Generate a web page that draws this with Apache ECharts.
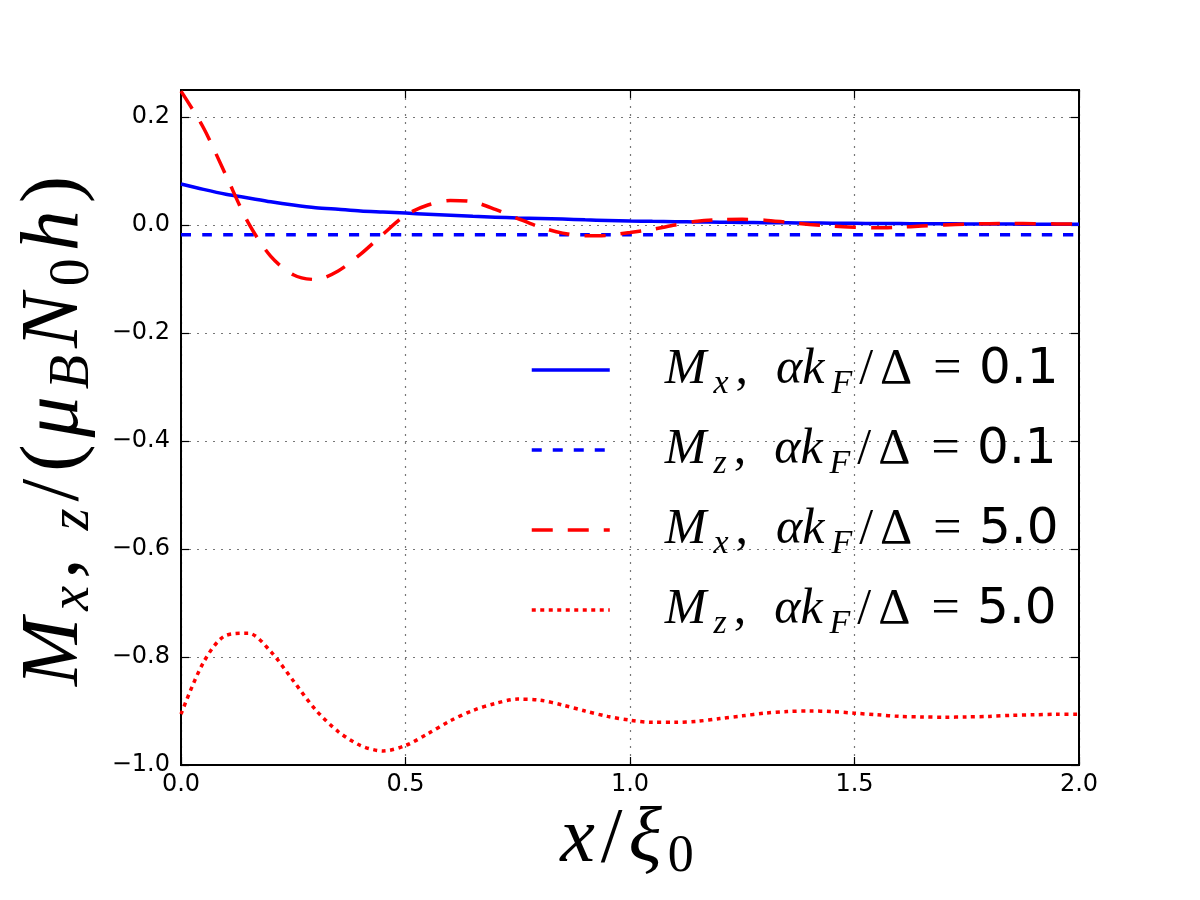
<!DOCTYPE html>
<html>
<head>
<meta charset="utf-8">
<script src="https://cdn.jsdelivr.net/npm/echarts@6/dist/echarts.min.js"></script>
<style>
  html, body { margin: 0; padding: 0; background: #fff; }
  #chart { width: 1200px; height: 900px; }
</style>
</head>
<body>
<div id="chart"></div>
<script>
// x / xi_0 sample positions
const xs = [0.00, 0.05, 0.10, 0.15, 0.20, 0.25, 0.30, 0.35, 0.40, 0.45,
  0.50, 0.55, 0.60, 0.65, 0.70, 0.75, 0.80, 0.85, 0.90, 0.95,
  1.00, 1.05, 1.10, 1.15, 1.20, 1.25, 1.30, 1.35, 1.40, 1.45,
  1.50, 1.55, 1.60, 1.65, 1.70, 1.75, 1.80, 1.85, 1.90, 1.95, 2.00]

// M_x, alpha k_F / Delta = 0.1
const mx01 = [0.076, 0.066, 0.057, 0.050, 0.043, 0.037, 0.032, 0.029, 0.026, 0.024,
  0.022, 0.020, 0.018, 0.016, 0.0145, 0.013, 0.012, 0.011, 0.0095, 0.0085,
  0.0075, 0.0068, 0.0062, 0.0056, 0.0051, 0.0047, 0.0043, 0.0040, 0.0037, 0.0034,
  0.0031, 0.0028, 0.0026, 0.0024, 0.0022, 0.0020, 0.0018, 0.0017, 0.0015, 0.0014, 0.0013]

// M_z, alpha k_F / Delta = 0.1
const mz01 = [-0.018, -0.018, -0.018, -0.018, -0.018, -0.018, -0.018, -0.018, -0.018, -0.018,
  -0.018, -0.018, -0.018, -0.018, -0.018, -0.018, -0.018, -0.018, -0.018, -0.018,
  -0.018, -0.018, -0.018, -0.018, -0.018, -0.018, -0.018, -0.018, -0.018, -0.018,
  -0.018, -0.018, -0.018, -0.018, -0.018, -0.018, -0.018, -0.018, -0.018, -0.018, -0.018]

// M_x, alpha k_F / Delta = 5.0
const mx50 = [0.248, 0.180, 0.092, 0.004, -0.058, -0.092, -0.101, -0.085, -0.054, -0.017,
  0.018, 0.037, 0.0455, 0.043, 0.029, 0.012, -0.004, -0.015, -0.020, -0.019,
  -0.014, -0.008, 0.000, 0.007, 0.010, 0.0105, 0.009, 0.005, 0.001, -0.002,
  -0.004, -0.005, -0.004, -0.002, 0.000, 0.0015, 0.0025, 0.003, 0.0025, 0.002, 0.0015]

// M_z, alpha k_F / Delta = 5.0
const mz50 = [-0.906, -0.810, -0.760, -0.756, -0.790, -0.844, -0.898, -0.938, -0.964, -0.974,
  -0.964, -0.942, -0.918, -0.899, -0.886, -0.878, -0.880, -0.889, -0.900, -0.910,
  -0.917, -0.921, -0.921, -0.919, -0.914, -0.909, -0.904, -0.901, -0.900, -0.901,
  -0.904, -0.907, -0.910, -0.911, -0.9115, -0.911, -0.910, -0.908, -0.907, -0.906, -0.906]

const seriesNames = ['mx01', 'mz01', 'mx50', 'mz50']
const legendTexts = {
  mx01: '{m|M}{s|x}{c|,}{m|αk}{s|F}{u|/}{u|Δ}{e|=}{n|0.1}',
  mz01: '{m|M}{s|z}{c|,}{m|αk}{s|F}{u|/}{u|Δ}{e|=}{n|0.1}',
  mx50: '{m|M}{s|x}{c|,}{m|αk}{s|F}{u|/}{u|Δ}{e|=}{n|5.0}',
  mz50: '{m|M}{s|z}{c|,}{m|αk}{s|F}{u|/}{u|Δ}{e|=}{n|5.0}'
}

const serif = 'Liberation Serif'
const sans = 'DejaVu Sans'

const chart = echarts.init(document.getElementById('chart'))

const pairs = arr => xs.map((x, i) => [x, arr[i]])
const fmt = v => (v < 0 ? '\u2212' : '') + Math.abs(v).toFixed(1)

// math-like rich text pieces, gap = extra spacing between glyphs
const mathRich = (size, sub, gap) => {
  const drop = Math.round(size * 0.42)
  return {
    m: { fontFamily: serif, fontStyle: 'italic', fontSize: size, color: '#000', padding: [0, gap, 0, 0] },
    u: { fontFamily: serif, fontSize: size, color: '#000', padding: [0, gap, 0, 0] },
    c: { fontFamily: serif, fontSize: size, color: '#000', padding: [0, gap * 4, 0, 0] },
    e: { fontFamily: serif, fontSize: size, color: '#000', padding: [0, gap * 2.5, 0, gap * 2] },
    s: { fontFamily: serif, fontStyle: 'italic', fontSize: sub, color: '#000', verticalAlign: 'bottom', padding: [drop, gap, 0, 0] },
    d: { fontFamily: serif, fontSize: sub, color: '#000', verticalAlign: 'bottom', padding: [drop, gap, 0, 0] },
    n: { fontFamily: sans, fontSize: size, color: '#000' }
  }
}

const lineSeries = (name, data, color, type) => ({
  name,
  type: 'line',
  data: pairs(data),
  symbol: 'none',
  smooth: 0.3,
  lineStyle: { color, width: 3.5, type, cap: 'butt' },
  itemStyle: { color },
  z: 3
})

const axisLine = { show: true, onZero: false, lineStyle: { color: '#000', width: 2 } }
const axisTick = { show: true, inside: true, length: 8, lineStyle: { color: '#000', width: 1.2 } }
const gridLine = { show: true, lineStyle: { color: '#777', width: 1.2, type: [2, 6] } }

const option = {
  backgroundColor: '#fff',
  animation: false,
  grid: {
    left: 181, right: 121, top: 90, bottom: 135,
    outerBoundsMode: 'none',
    show: true, borderColor: '#000', borderWidth: 2
  },
  legend: {
    orient: 'vertical',
    left: 525,
    top: 334,
    itemWidth: 78,
    itemHeight: 14,
    itemGap: 18,
    data: seriesNames,
    itemStyle: { opacity: 0 },
    lineStyle: { width: 3.5 },
    formatter: n => legendTexts[n],
    textStyle: {
      padding: [0, 0, 0, 50],
      lineHeight: 62,
      rich: mathRich(50, 34, 7)
    }
  },
  xAxis: [{
    type: 'value',
    min: 0, max: 2, interval: 0.5,
    name: '{m|x}{u|/}{m|ξ}{d|0}',
    nameLocation: 'middle',
    nameGap: 30,
    nameTextStyle: { rich: mathRich(78, 52, 6), verticalAlign: 'top' },
    axisLine,
    axisTick,
    axisLabel: { formatter: v => v.toFixed(1), fontFamily: sans, fontSize: 24, color: '#000', margin: 8 },
    splitLine: gridLine
  }, {
    type: 'value', position: 'top',
    min: 0, max: 2, interval: 0.5,
    axisLine,
    axisTick,
    axisLabel: { show: false },
    splitLine: { show: false }
  }],
  yAxis: [{
    type: 'value',
    min: -1, max: 0.25, interval: 0.2,
    name: '{m|M}{s|x}{c|,}{s|z}{u|/}{u|(}{m|μ}{s|B}{m|N}{d|0}{m|h}{u|)}',
    nameLocation: 'middle',
    nameRotate: 90,
    nameGap: 80,
    nameTextStyle: { rich: mathRich(82, 56, 7) },
    axisLine,
    axisTick,
    axisLabel: { formatter: fmt, fontFamily: sans, fontSize: 24, color: '#000', margin: 11, showMaxLabel: false },
    splitLine: gridLine
  }, {
    type: 'value', position: 'right',
    min: -1, max: 0.25, interval: 0.2,
    axisLine,
    axisTick,
    axisLabel: { show: false },
    splitLine: { show: false }
  }],
  series: [
    lineSeries('mx01', mx01, '#0000ff', 'solid'),
    lineSeries('mz01', mz01, '#0000ff', [10, 11]),
    lineSeries('mx50', mx50, '#ff0000', [21, 15]),
    lineSeries('mz50', mz50, '#ff0000', [4, 4.5])
  ]
}

chart.setOption(option)
</script>
</body>
</html>
